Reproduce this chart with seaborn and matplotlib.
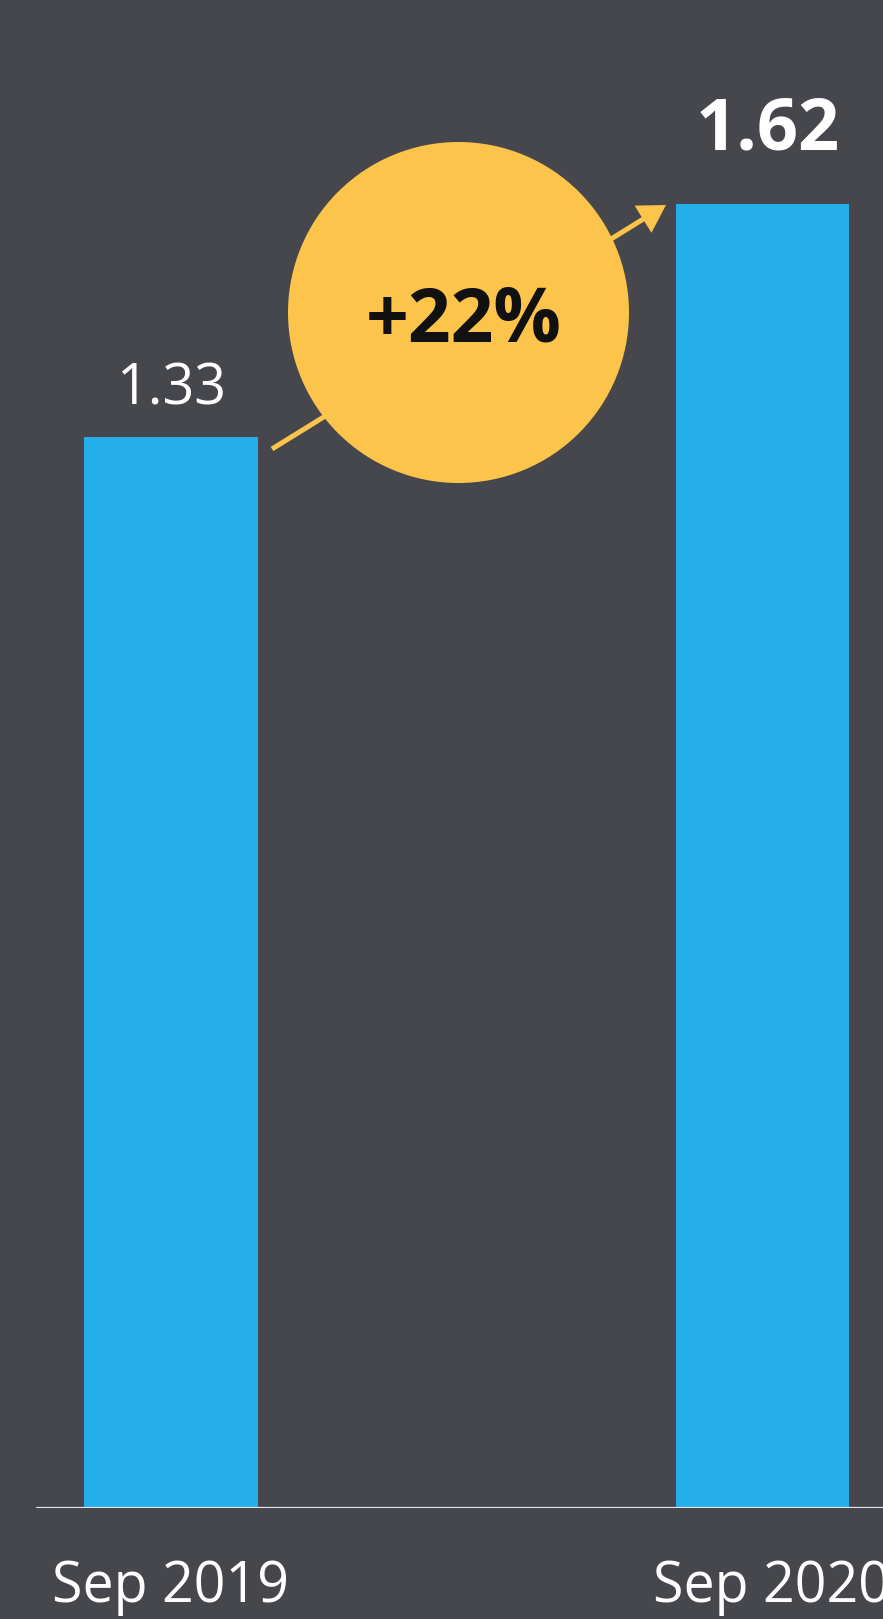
import matplotlib
matplotlib.use("Agg")
import matplotlib.pyplot as plt
from matplotlib.patches import Circle, FancyArrow
from matplotlib.transforms import blended_transform_factory, offset_copy
import seaborn as sns
import pandas as pd

# Data
periods = ["Sep 2019", "Sep 2020"]
values = [1.33, 1.62]

BG = "#46474D"
BLUE = "#24AEEA"
YELLOW = "#FDC44B"
LINE = "#E4E6EA"

sns.set_theme(style="white")
plt.rcParams["font.family"] = ["Open Sans", "DejaVu Sans"]

W, H, DPI = 883, 1619, 100
fig = plt.figure(figsize=(W / DPI, H / DPI), dpi=DPI, facecolor=BG)

base_px = 111  # distance of the baseline from the bottom edge
ax = fig.add_axes([0, base_px / H, 1, 1 - base_px / H])
ax.set_facecolor(BG)

df = pd.DataFrame({"period": periods, "value": values})
sns.barplot(data=df, x="period", y="value", color=BLUE, saturation=1,
            width=0.294, linewidth=0, edgecolor="none", ax=ax, zorder=2)

px_per_unit = 805.0
ax.set_ylim(0, (H - base_px) / px_per_unit)
ax.set_xlim(-0.289, 1.2037)
ax.set_xticks([])
ax.set_yticks([])
ax.set_xlabel("")
ax.set_ylabel("")
for s in ax.spines.values():
    s.set_visible(False)

# Baseline
ax.axhline(0, xmin=37 / W, xmax=1, color=LINE, lw=1.6, zorder=3)

# Value labels above bars; the latest value is emphasised
label_gap = [24, 39]
for i, v in enumerate(values):
    bold = i == len(values) - 1
    ax.annotate(f"{v:.2f}", xy=(i, v), xytext=(4 * i, label_gap[i]),
                textcoords="offset points", ha="center", va="baseline",
                color="white", fontsize=52 if bold else 40,
                fontweight="bold" if bold else "normal", zorder=4)

# Category labels under the baseline
trans = blended_transform_factory(ax.transData, ax.transAxes)
for i, p in enumerate(periods):
    t = offset_copy(trans, fig=fig, x=9 * i, y=-94, units="dots")
    ax.text(i, 0, p, transform=t, ha="center", va="baseline",
            color="white", fontsize=40)

# Growth badge in pixel space
ov = fig.add_axes([0, 0, 1, 1])
ov.set_xlim(0, W)
ov.set_ylim(H, 0)
ov.axis("off")
ov.patch.set_alpha(0)

ov.add_patch(FancyArrow(272, 449, 666 - 272, 205 - 449, width=5,
                        head_width=32, head_length=27,
                        length_includes_head=True, color=YELLOW, lw=0,
                        zorder=1))
ov.add_patch(Circle((458.5, 312.5), 170.5, color=YELLOW, lw=0, zorder=2))
pct = round((values[1] / values[0] - 1) * 100)
ov.text(464, 342, f"+{pct}%", ha="center", va="baseline", color="#111111",
        fontsize=54, fontweight="bold", zorder=3)

fig.savefig("out.png", dpi=DPI, facecolor=BG)
